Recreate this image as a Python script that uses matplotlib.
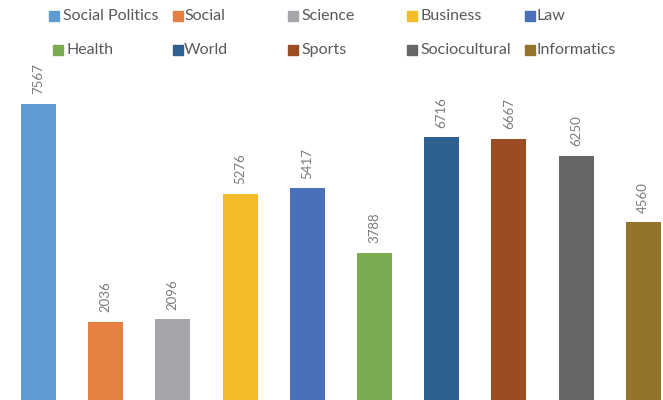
import matplotlib
matplotlib.use("Agg")
import matplotlib.pyplot as plt
from matplotlib.patches import Rectangle

categories = ["Social Politics", "Social", "Science", "Business", "Law",
              "Health", "World", "Sports", "Sociocultural", "Informatics"]
counts = [7567, 2036, 2096, 5276, 5417, 3788, 6716, 6667, 6250, 4560]
colors = ["#5E9BD2", "#E68042", "#A5A6A9", "#F4BC2A", "#4A70B9",
          "#7AAB50", "#2F6190", "#9B4C24", "#666666", "#94742A"]

plt.rcParams["font.family"] = ["Lato", "DejaVu Sans"]

fig = plt.figure(figsize=(6.63, 4.0), dpi=100)
ax = fig.add_axes([0, 0, 1, 1])

x = list(range(len(categories)))
ax.bar(x, counts, width=0.52, color=colors)
for xi, v in zip(x, counts):
    ax.annotate(str(v), (xi, v), xytext=(0, 7), textcoords="offset points",
                rotation=90, ha="center", va="bottom", fontsize=9.5,
                color="#7a7a7a")

ax.set_xlim(-0.573, 9.293)
ax.set_ylim(51, 10198)
ax.axis("off")

# legend: two rows of five, small square + label
col_x = [49, 173, 288, 407, 525]
text_x = [63, 184, 301, 420, 537]
row_y = [16, 50]
for i, (name, c) in enumerate(zip(categories, colors)):
    r, k = divmod(i, 5)
    px, py = col_x[k], row_y[r]
    if name == "Health":
        px, tx = 53, 67
    else:
        tx = text_x[k]
    fig.patches.append(Rectangle((px / 663, 1 - (py + 5) / 400), 10 / 663, 10 / 400,
                                 transform=fig.transFigure, color=c))
    fig.text(tx / 663, 1 - py / 400, name, fontsize=11.5, color="#595959",
             va="center", ha="left")

fig.savefig("out.png", dpi=100)
